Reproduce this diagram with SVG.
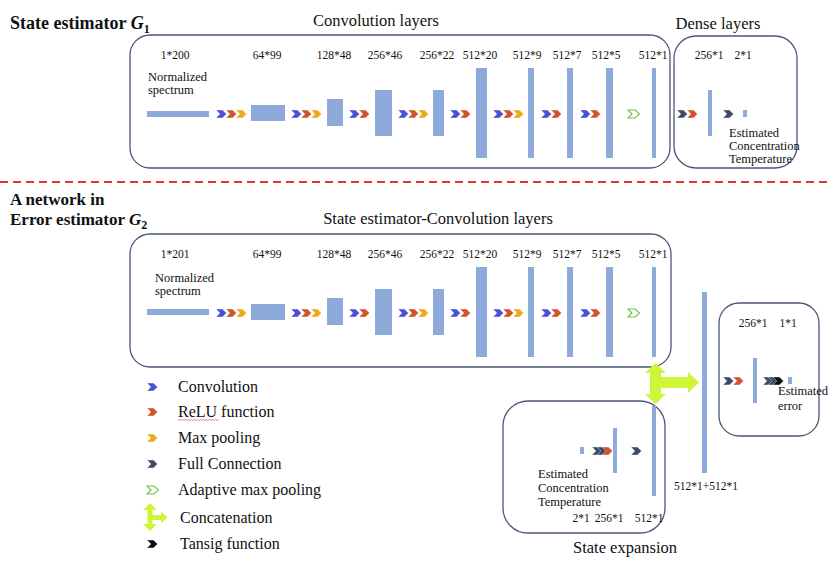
<svg xmlns="http://www.w3.org/2000/svg" xmlns:xlink="http://www.w3.org/1999/xlink" width="831" height="566" viewBox="0 0 831 566">
<style>
.t{font-family:"Liberation Serif","Times New Roman",serif;fill:#111}
.h{font-size:18px;font-weight:bold}
.h2{font-size:17px;font-weight:bold}
.s{font-size:16.5px}
.l{font-size:11.5px;text-anchor:middle}
.n{font-size:12.5px}
.lg{font-size:16px}
.bar{fill:#8eaadb}
.box{fill:none;stroke:#4a5877;stroke-width:1.3}
.cb{fill:#4b4fd6;stroke:#fff;stroke-width:.4}
.cr{fill:#d0532b;stroke:#fff;stroke-width:.4}
.cy{fill:#ebaa1c;stroke:#fff;stroke-width:.4}
.cd{fill:#3e4b66;stroke:#fff;stroke-width:.4}
.ck{fill:#0d0d0d;stroke:#fff;stroke-width:.4}
.cg{fill:none;stroke:#74c242;stroke-width:1.1}
.cat{fill:#cdf63a}
</style>
<defs>
<path id="ch" d="M0,-4H6.5L10.5,0L6.5,4H0L3.8,0Z"/>
<path id="chg" d="M0,-4H7L11.5,0L7,4H0L4,0Z"/>
</defs>
<rect width="831" height="566" fill="#fff"/>

<g id="titles">
<text class="t h" x="10" y="29">State estimator <tspan font-style="italic">G</tspan><tspan font-size="12" dy="4">1</tspan></text>
<text class="t s" x="376" y="26" text-anchor="middle">Convolution layers</text>
<text class="t s" x="718" y="29" text-anchor="middle">Dense layers</text>
<text class="t h2" x="10" y="205">A network in</text>
<text class="t h2" x="10" y="225">Error estimator <tspan font-style="italic">G</tspan><tspan font-size="12" dy="4">2</tspan></text>
<text class="t s" x="438" y="224" text-anchor="middle">State estimator-Convolution layers</text>
<text class="t s" x="625" y="553" text-anchor="middle">State expansion</text>
</g>

<line id="divider" x1="0" y1="182" x2="831" y2="182" stroke="#e8322f" stroke-width="2" stroke-dasharray="8 5"/>

<g id="g1-conv">
<rect class="box" x="130" y="35" width="540" height="133" rx="20"/>
<text class="t l" x="175" y="59">1*200</text>
<text class="t l" x="267" y="59">64*99</text>
<text class="t l" x="334" y="59">128*48</text>
<text class="t l" x="385" y="59">256*46</text>
<text class="t l" x="437" y="59">256*22</text>
<text class="t l" x="480" y="59">512*20</text>
<text class="t l" x="527" y="59">512*9</text>
<text class="t l" x="567" y="59">512*7</text>
<text class="t l" x="606" y="59">512*5</text>
<text class="t l" x="653" y="59">512*1</text>
<text class="t n" x="148" y="81">Normalized</text>
<text class="t n" x="148" y="94">spectrum</text>
<rect class="bar" x="147" y="111" width="62" height="6"/>
<rect class="bar" x="251" y="105" width="34" height="16"/>
<rect class="bar" x="327" y="99" width="16" height="27"/>
<rect class="bar" x="375" y="90" width="17" height="46"/>
<rect class="bar" x="433" y="90" width="11" height="46"/>
<rect class="bar" x="476" y="68" width="11" height="90"/>
<rect class="bar" x="528" y="68" width="6" height="90"/>
<rect class="bar" x="567" y="68" width="6" height="90"/>
<rect class="bar" x="606" y="68" width="7" height="90"/>
<rect class="bar" x="652" y="68" width="4" height="90"/>
</g>

<g id="g1-dense">
<rect class="box" x="674" y="36" width="123" height="132" rx="22"/>
<text class="t l" x="709" y="59">256*1</text>
<text class="t l" x="743" y="59">2*1</text>
<rect class="bar" x="708" y="90" width="4" height="46"/>
<rect class="bar" x="743" y="110" width="4" height="7"/>
<text class="t n" x="729" y="137">Estimated</text>
<text class="t n" x="729" y="150">Concentration</text>
<text class="t n" x="729" y="163">Temperature</text>
</g>

<g id="g2-conv">
<rect class="box" x="130" y="234" width="541" height="133" rx="20"/>
<text class="t l" x="175" y="258">1*201</text>
<text class="t l" x="267" y="258">64*99</text>
<text class="t l" x="334" y="258">128*48</text>
<text class="t l" x="385" y="258">256*46</text>
<text class="t l" x="437" y="258">256*22</text>
<text class="t l" x="480" y="258">512*20</text>
<text class="t l" x="527" y="258">512*9</text>
<text class="t l" x="567" y="258">512*7</text>
<text class="t l" x="606" y="258">512*5</text>
<text class="t l" x="653" y="258">512*1</text>
<text class="t n" x="155" y="282">Normalized</text>
<text class="t n" x="155" y="295">spectrum</text>
<g transform="translate(0,199)">
<rect class="bar" x="147" y="110" width="62" height="6"/>
<rect class="bar" x="251" y="105" width="34" height="16"/>
<rect class="bar" x="327" y="99" width="16" height="27"/>
<rect class="bar" x="375" y="90" width="17" height="46"/>
<rect class="bar" x="433" y="90" width="11" height="46"/>
<rect class="bar" x="476" y="68" width="11" height="90"/>
<rect class="bar" x="528" y="68" width="6" height="90"/>
<rect class="bar" x="567" y="68" width="6" height="90"/>
<rect class="bar" x="606" y="68" width="7" height="90"/>
<rect class="bar" x="652" y="68" width="4" height="90"/>
</g>
</g>

<g id="g2-expansion">
<rect class="box" x="503" y="401" width="162" height="132" rx="25"/>
<rect class="bar" x="580" y="447" width="4" height="7"/>
<rect class="bar" x="613" y="428" width="4" height="45"/>
<rect class="bar" x="652" y="406" width="4" height="90"/>
<text class="t n" x="538" y="478">Estimated</text>
<text class="t n" x="538" y="492">Concentration</text>
<text class="t n" x="538" y="506">Temperature</text>
<text class="t l" x="581" y="522">2*1</text>
<text class="t l" x="609" y="522">256*1</text>
<text class="t l" x="649" y="522">512*1</text>
</g>

<g id="g2-concat-layer">
<rect class="bar" x="702" y="292" width="5" height="181"/>
<text class="t l" x="706" y="490">512*1+512*1</text>
</g>

<g id="g2-error">
<rect class="box" x="719" y="303" width="100" height="133" rx="20"/>
<text class="t l" x="753" y="327">256*1</text>
<text class="t l" x="788" y="327">1*1</text>
<rect class="bar" x="753" y="358" width="4" height="45"/>
<rect class="bar" x="788" y="377" width="4" height="7"/>
<text class="t n" x="778" y="395">Estimated</text>
<text class="t n" x="778" y="410">error</text>
</g>

<g id="connectors">
<g transform="translate(0,114)">
<use xlink:href="#ch" href="#ch" class="cb" x="216"/><use xlink:href="#ch" href="#ch" class="cr" x="226"/><use xlink:href="#ch" href="#ch" class="cy" x="236"/>
<use xlink:href="#ch" href="#ch" class="cb" x="291"/><use xlink:href="#ch" href="#ch" class="cr" x="301"/><use xlink:href="#ch" href="#ch" class="cy" x="311"/>
<use xlink:href="#ch" href="#ch" class="cb" x="349"/><use xlink:href="#ch" href="#ch" class="cr" x="359"/>
<use xlink:href="#ch" href="#ch" class="cb" x="398"/><use xlink:href="#ch" href="#ch" class="cr" x="408"/><use xlink:href="#ch" href="#ch" class="cy" x="418"/>
<use xlink:href="#ch" href="#ch" class="cb" x="450"/><use xlink:href="#ch" href="#ch" class="cr" x="460"/>
<use xlink:href="#ch" href="#ch" class="cb" x="493"/><use xlink:href="#ch" href="#ch" class="cr" x="503"/><use xlink:href="#ch" href="#ch" class="cy" x="513"/>
<use xlink:href="#ch" href="#ch" class="cb" x="541"/><use xlink:href="#ch" href="#ch" class="cr" x="551"/>
<use xlink:href="#ch" href="#ch" class="cb" x="580"/><use xlink:href="#ch" href="#ch" class="cr" x="590"/>
<use xlink:href="#chg" href="#chg" class="cg" x="628"/>
<use xlink:href="#ch" href="#ch" class="cd" x="677"/><use xlink:href="#ch" href="#ch" class="cr" x="687"/>
<use xlink:href="#ch" href="#ch" class="cd" x="723"/>
</g>
<g transform="translate(0,313)">
<use xlink:href="#ch" href="#ch" class="cb" x="216"/><use xlink:href="#ch" href="#ch" class="cr" x="226"/><use xlink:href="#ch" href="#ch" class="cy" x="236"/>
<use xlink:href="#ch" href="#ch" class="cb" x="291"/><use xlink:href="#ch" href="#ch" class="cr" x="301"/><use xlink:href="#ch" href="#ch" class="cy" x="311"/>
<use xlink:href="#ch" href="#ch" class="cb" x="349"/><use xlink:href="#ch" href="#ch" class="cr" x="359"/>
<use xlink:href="#ch" href="#ch" class="cb" x="398"/><use xlink:href="#ch" href="#ch" class="cr" x="408"/><use xlink:href="#ch" href="#ch" class="cy" x="418"/>
<use xlink:href="#ch" href="#ch" class="cb" x="450"/><use xlink:href="#ch" href="#ch" class="cr" x="460"/>
<use xlink:href="#ch" href="#ch" class="cb" x="493"/><use xlink:href="#ch" href="#ch" class="cr" x="503"/><use xlink:href="#ch" href="#ch" class="cy" x="513"/>
<use xlink:href="#ch" href="#ch" class="cb" x="541"/><use xlink:href="#ch" href="#ch" class="cr" x="551"/>
<use xlink:href="#ch" href="#ch" class="cb" x="580"/><use xlink:href="#ch" href="#ch" class="cr" x="590"/>
<use xlink:href="#chg" href="#chg" class="cg" x="628"/>
</g>
<g transform="translate(0,451)">
<use xlink:href="#ch" href="#ch" class="cd" x="592"/><use xlink:href="#ch" href="#ch" class="cd" x="597"/><use xlink:href="#ch" href="#ch" class="cr" x="602"/>
<use xlink:href="#ch" href="#ch" class="cd" x="631"/>
</g>
<g transform="translate(0,381)">
<use xlink:href="#ch" href="#ch" class="cd" x="723"/><use xlink:href="#ch" href="#ch" class="cr" x="733"/>
<use xlink:href="#ch" href="#ch" class="cd" x="763"/><use xlink:href="#ch" href="#ch" class="cd" x="768"/><use xlink:href="#ch" href="#ch" class="ck" x="773"/>
</g>
<path class="cat" d="M650,373H645L655.5,363L666,373H661V377H688V372L699,382.5L688,393V388H661V394H666L655.5,404L645,394H650Z"/>
</g>

<g id="legend">
<use xlink:href="#ch" href="#ch" class="cb" x="147" y="387"/>
<text class="t lg" x="178" y="392">Convolution</text>
<use xlink:href="#ch" href="#ch" class="cr" x="147" y="412"/>
<text class="t lg" x="178" y="417">ReLU function</text>
<path d="M178,420.5l1.5,-1l1.5,1l1.5,-1l1.5,1l1.5,-1l1.5,1l1.5,-1l1.5,1l1.5,-1l1.5,1l1.5,-1l1.5,1l1.5,-1l1.5,1l1.5,-1l1.5,1l1.5,-1l1.5,1l1.5,-1l1.5,1l1.5,-1l1.5,1l1.5,-1l1.5,1l1.5,-1l1.5,1l1.5,-1" fill="none" stroke="#e05555" stroke-width="0.7"/>
<use xlink:href="#ch" href="#ch" class="cy" x="147" y="438"/>
<text class="t lg" x="178" y="443">Max pooling</text>
<use xlink:href="#ch" href="#ch" class="cd" x="147" y="464"/>
<text class="t lg" x="178" y="469">Full Connection</text>
<use xlink:href="#chg" href="#chg" class="cg" x="147" y="490"/>
<text class="t lg" x="178" y="495">Adaptive max pooling</text>
<path class="cat" d="M147.5,510H143L150,503L157,510H152.5V515H161V511.5L167.5,517.5L161,523.5V520H152.5V524H157L150,531L143,524H147.5Z"/>
<text class="t lg" x="180" y="523">Concatenation</text>
<use xlink:href="#ch" href="#ch" class="ck" x="147" y="544"/>
<text class="t lg" x="180" y="549">Tansig function</text>
</g>
</svg>
